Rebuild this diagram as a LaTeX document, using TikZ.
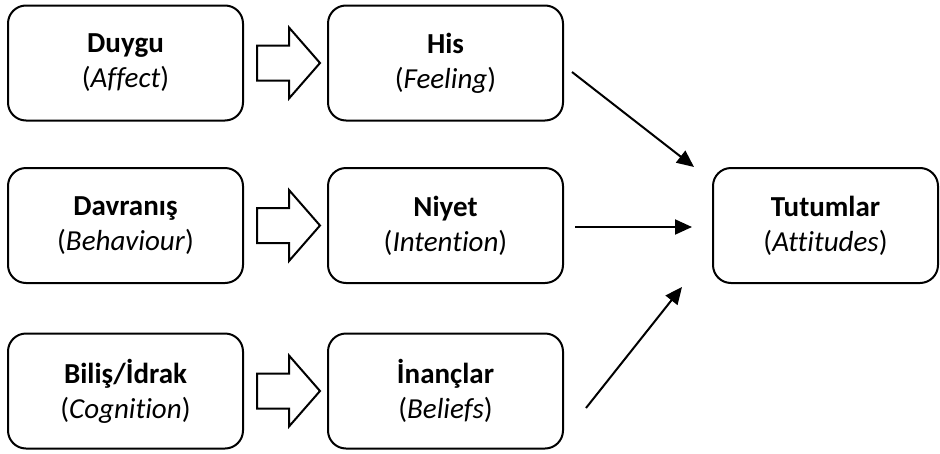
\documentclass[tikz,border=0pt]{standalone}
\usepackage{fontspec}
\setmainfont[Ligatures=NoCommon]{Carlito}
\usetikzlibrary{arrows.meta}
\begin{document}
\begin{tikzpicture}[x=1pt,y=-1pt,
  box/.style={draw, line width=2pt, rounded corners=18pt,
    minimum width=235pt, minimum height=115pt, inner sep=0pt,
    align=center, font=\fontsize{29}{35}\selectfont},
  link/.style={line width=2pt, -{Triangle[length=17pt,width=15pt]}},
  fat/.style={draw, line width=2pt, fill=white, line join=miter},
  fatarrow/.pic={\draw[fat] (13,-17.5) -- (45,-17.5) -- (45,-35.5) -- (76,0)
      -- (45,35.5) -- (45,17.5) -- (13,17.5) -- cycle;}]
\useasboundingbox (0,0) rectangle (940,453);

% left column: components
\node[box] (duygu)    at (125.5,63)  {\textbf{Duygu}\\(\textit{Affect})};
\node[box] (davranis) at (125.5,225.5) {\textbf{Davranış}\\(\textit{Behaviour})};
\node[box] (bilis)    at (125.5,391) {\textbf{Biliş/İdrak}\\(\textit{Cognition})};

% middle column
\node[box] (his)      at (445.5,63)  {\textbf{His}\\(\textit{Feeling})};
\node[box] (niyet)    at (445.5,225.5) {\textbf{Niyet}\\(\textit{Intention})};
\node[box] (inanc)    at (445.5,391) {\textbf{İnançlar}\\(\textit{Beliefs})};

% right: result
\node[box, minimum width=225pt] (tutum) at (825.5,225.5) {\textbf{Tutumlar}\\(\textit{Attitudes})};

% block arrows between columns
\path (duygu.east)    pic {fatarrow};
\path (davranis.east) pic {fatarrow};
\path (bilis.east)    pic {fatarrow};

% converging arrows
\coordinate (s1) at (572,72);
\coordinate (e1) at (694,167);
\coordinate (s2) at (575,227);
\coordinate (e2) at (692,227);
\coordinate (s3) at (586,408);
\coordinate (e3) at (682,287);
\draw[link] (s1) -- (e1);
\draw[link] (s2) -- (e2);
\draw[link] (s3) -- (e3);
\end{tikzpicture}
\end{document}
